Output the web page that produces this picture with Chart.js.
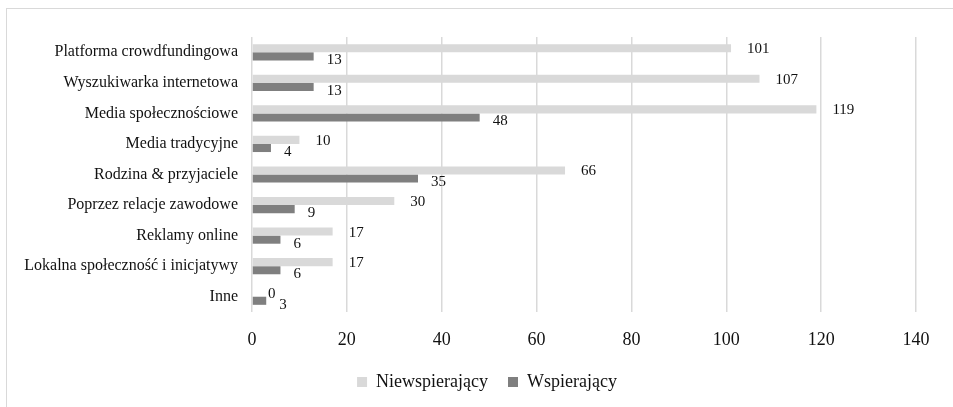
<!DOCTYPE html>
<html>
<head>
<meta charset="utf-8">
<script src="https://cdn.jsdelivr.net/npm/chart.js@4.4.1/dist/chart.umd.min.js"></script>
<style>
html, body { margin: 0; padding: 0; background: #fff; overflow: hidden; }
#wrap { position: relative; width: 953px; height: 407px; }
#frame { position: absolute; left: 6px; top: 8px; width: 1000px; height: 500px; border: 1px solid #d9d9d9; }
canvas { position: absolute; left: 0; top: 0; }
</style>
</head>
<body>
<div id="wrap">
  <div id="frame"></div>
  <canvas id="chart" width="953" height="407"></canvas>
</div>
<script>
const categories = [
    'Platforma crowdfundingowa',
    'Wyszukiwarka internetowa',
    'Media społecznościowe',
    'Media tradycyjne',
    'Rodzina & przyjaciele',
    'Poprzez relacje zawodowe',
    'Reklamy online',
    'Lokalna społeczność i inicjatywy',
    'Inne'
];
const niewspierajacy = [101, 107, 119, 10, 66, 30, 17, 17, 0];
const wspierajacy = [13, 13, 48, 4, 35, 9, 6, 6, 3];
const xMin = 0;
const xMax = 140;
const xStep = 20;

const FONT = '"Liberation Serif", "Times New Roman", serif';
const TEXT = '#111111';

// number next to the end of each bar
const valueLabels = {
    id: 'valueLabels',
    afterDatasetsDraw(chart) {
        const ctx = chart.ctx;
        const offsets = [[16, 1], [13, 4]];
        ctx.save();
        ctx.font = '15px ' + FONT;
        ctx.fillStyle = TEXT;
        ctx.textAlign = 'left';
        ctx.textBaseline = 'middle';
        chart.data.datasets.forEach((ds, i) => {
            chart.getDatasetMeta(i).data.forEach((bar, j) => {
                ctx.fillText(String(ds.data[j]), bar.x + offsets[i][0], bar.y + offsets[i][1]);
            });
        });
        ctx.restore();
    }
};

// the legend sits a bit right of the canvas centre in the original
const legendShift = {
    id: 'legendShift',
    afterLayout(chart) {
        chart.legend.left += 29;
        chart.legend.right += 29;
    }
};

const chart = new Chart(document.getElementById('chart').getContext('2d'), {
    type: 'bar',
    data: {
        labels: categories,
        datasets: [
            {
                label: 'Niewspierający',
                data: niewspierajacy,
                backgroundColor: '#d9d9d9',
                categoryPercentage: 0.53,
                barPercentage: 1.0
            },
            {
                label: 'Wspierający',
                data: wspierajacy,
                backgroundColor: '#7f7f7f',
                categoryPercentage: 0.53,
                barPercentage: 1.0
            }
        ]
    },
    options: {
        indexAxis: 'y',
        responsive: false,
        animation: false,
        layout: { padding: { top: 37, right: 37, left: 0, bottom: 6 } },
        scales: {
            x: {
                min: xMin,
                max: xMax,
                ticks: { stepSize: xStep, color: TEXT, font: { family: FONT, size: 18 }, padding: 17 },
                grid: { color: '#d9d9d9', lineWidth: 1.5, drawTicks: false },
                border: { display: false },
                afterFit(scale) { scale.height = 41; }
            },
            y: {
                ticks: { color: TEXT, font: { family: FONT, size: 16 }, padding: 14 },
                grid: { display: false, drawTicks: false },
                border: { display: false },
                afterFit(scale) { scale.width = 252; }
            }
        },
        plugins: {
            legend: {
                position: 'bottom',
                labels: {
                    boxWidth: 10,
                    boxHeight: 10,
                    padding: 20,
                    color: TEXT,
                    font: { family: FONT, size: 18 }
                }
            },
            tooltip: { enabled: false }
        }
    },
    plugins: [valueLabels, legendShift]
});
</script>
</body>
</html>
